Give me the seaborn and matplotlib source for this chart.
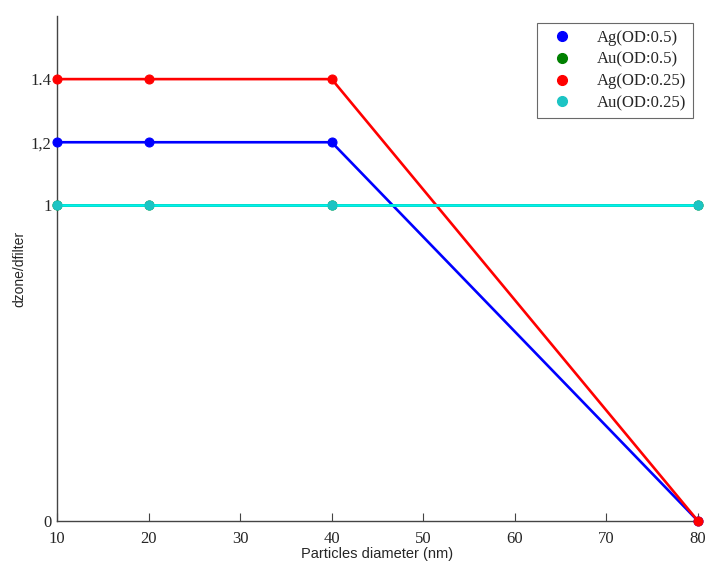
import matplotlib
matplotlib.use("Agg")
import matplotlib.pyplot as plt
import seaborn as sns
import pandas as pd
from matplotlib.lines import Line2D

diameters = [10, 20, 40, 80]
ag_05 = [1.2, 1.2, 1.2, 0.0]
au_05 = [1.0, 1.0, 1.0, 1.0]
ag_025 = [1.4, 1.4, 1.4, 0.0]
au_025 = [1.0, 1.0, 1.0, 1.0]
series_names = ["Ag(OD:0.5)", "Au(OD:0.5)", "Ag(OD:0.25)", "Au(OD:0.25)"]
ytick_vals = [0, 1, 1.2, 1.4]
ytick_labels = ["0", "1", "1,2", "1.4"]
xtick_vals = [10, 20, 30, 40, 50, 60, 70, 80]

sns.set_theme(style="ticks")
plt.rcParams['font.family'] = ['Liberation Serif', 'DejaVu Serif']

line_colors = ["#0000ff", "#008000", "#ff0000", "#00f0f0"]
marker_colors = ["#0000ff", "#008000", "#ff0000", "#1cc4c4"]

fig = plt.figure(figsize=(7.06, 5.63), dpi=100)
ax = fig.add_axes([0.0807, 0.0746, 0.908, 0.897])

values = [ag_05, au_05, ag_025, au_025]
for name, vals, lc, mc in zip(series_names, values, line_colors, marker_colors):
    df = pd.DataFrame({"x": diameters, "y": vals})
    sns.lineplot(data=df, x="x", y="y", ax=ax, color=lc, linewidth=1.9,
                 marker="o", markersize=6.5, markerfacecolor=mc,
                 markeredgecolor=mc, clip_on=False, zorder=3)

ax.set_xlim(10, 80)
ax.set_ylim(0, 1.6)
ax.set_xticks(xtick_vals)
ax.set_xticklabels([str(v) for v in xtick_vals], fontsize=12)
ax.set_yticks(ytick_vals)
ax.set_yticklabels(ytick_labels, fontsize=12)
ax.tick_params(direction="in", length=6, width=0.8, color="#444444")
ax.tick_params(axis="x", pad=7)
ax.tick_params(axis="y", length=0, pad=4)
for s in ["top", "right"]:
    ax.spines[s].set_visible(False)
for s in ["left", "bottom"]:
    ax.spines[s].set_color("#444444")
    ax.spines[s].set_linewidth(1.0)

ax.set_xlabel("Particles diameter (nm)", fontsize=10.5, family="Liberation Sans", labelpad=0)
ax.set_ylabel("dzone/dfilter", fontsize=10, family="Liberation Sans", labelpad=3)

handles = [Line2D([], [], linestyle="none", marker="o", markersize=7,
                  markerfacecolor=mc, markeredgecolor=mc) for mc in marker_colors]
leg = ax.legend(handles, series_names, loc="upper right",
                bbox_to_anchor=(0.992, 0.986), fontsize=12, frameon=True,
                fancybox=False, edgecolor="#444444", handlelength=2.2,
                handletextpad=1.0, borderpad=0.4, labelspacing=0.35,
                borderaxespad=0)
leg.get_frame().set_linewidth(0.8)

fig.savefig("out.png", dpi=100)
